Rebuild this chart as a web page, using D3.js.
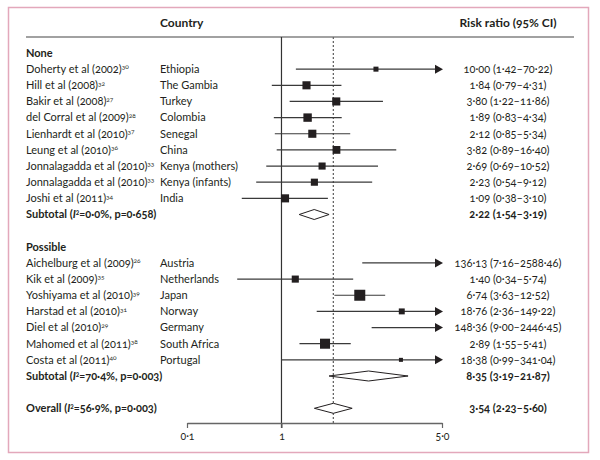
<!DOCTYPE html>
<html><head><meta charset="utf-8">
<script src="https://cdn.jsdelivr.net/npm/d3@7"></script>
<style>
body{margin:0;background:#fff;}
svg text{font-family:Lato,"Open Sans",sans-serif;fill:#231f20;font-variant-numeric:oldstyle-nums;}
</style></head><body>
<svg id="c" width="600" height="460"></svg>
<script>
// ---- data ----
const studies = ["Doherty et al (2002)","Hill et al (2008)","Bakir et al (2008)","del Corral et al (2009)","Lienhardt et al (2010)","Leung et al (2010)","Jonnalagadda et al (2010)","Jonnalagadda et al (2010)","Joshi et al (2011)",
  "Aichelburg et al (2009)","Kik et al (2009)","Yoshiyama et al (2010)","Harstad et al (2010)","Diel et al (2010)","Mahomed et al (2011)","Costa et al (2011)"];
const refs = ["30","32","27","28","37","36","33","33","34","26","35","39","31","29","38","40"];
const countries = ["Ethiopia","The Gambia","Turkey","Colombia","Senegal","China","Kenya (mothers)","Kenya (infants)","India",
  "Austria","Netherlands","Japan","Norway","Germany","South Africa","Portugal"];
const groupOf = ["None","None","None","None","None","None","None","None","None","Possible","Possible","Possible","Possible","Possible","Possible","Possible"];
const rr = [10.00,1.84,3.80,1.89,2.12,3.82,2.69,2.23,1.09,136.13,1.40,6.74,18.76,148.36,2.89,18.38];
const lo = [1.42,0.79,1.22,0.83,0.85,0.89,0.69,0.54,0.38,7.16,0.34,3.63,2.36,9.00,1.55,0.99];
const hi = [70.22,4.31,11.86,4.34,5.34,16.40,10.52,9.12,3.10,2588.46,5.74,12.52,149.22,2446.45,5.41,341.04];
const rrText = ["10·00 (1·42–70·22)","1·84 (0·79–4·31)","3·80 (1·22–11·86)","1·89 (0·83–4·34)","2·12 (0·85–5·34)","3·82 (0·89–16·40)","2·69 (0·69–10·52)","2·23 (0·54–9·12)","1·09 (0·38–3·10)",
  "136·13 (7·16–2588·46)","1·40 (0·34–5·74)","6·74 (3·63–12·52)","18·76 (2·36–149·22)","148·36 (9·00–2446·45)","2·89 (1·55–5·41)","18·38 (0·99–341·04)"];
const weights = [2.5,6.5,6.5,7,6.5,6,5,5,6.5,1.2,5,12,3.5,1.2,10,1.6];
const groups = ["None","Possible"];
const subI2 = ["0·0%","70·4%"];
const subP = ["0·658","0·003"];
const subRR = [2.22,8.35];
const subLo = [1.54,3.19];
const subHi = [3.19,21.87];
const subText = ["2·22 (1·54–3·19)","8·35 (3·19–21·87)"];
const overallI2 = "56·9%", overallP = "0·003";
const overallRR = 3.54, overallLo = 2.23, overallHi = 5.60;
const overallText = "3·54 (2·23–5·60)";
const tickValues = [0.1, 1, 50];
const tickLabels = ["0·1","1","5·0"];

// ---- layout rows ----
const rows = [];
groups.forEach((g,gi)=>{
  rows.push({type:"group", label:g});
  groupOf.forEach((gg,i)=>{ if(gg===g) rows.push({type:"study", i}); });
  rows.push({type:"sub", gi});
  rows.push({type:"blank"});
});
rows.push({type:"overall"});

const svg = d3.select("#c");
svg.append("rect").attr("x",8.5).attr("y",7.5).attr("width",580).attr("height",445)
  .attr("fill","none").attr("stroke","#e3a8bb").attr("stroke-width",1.5);

const FS = 11;
const y = d3.scalePoint().domain(d3.range(rows.length)).range([53, 53+16.15*(rows.length-1)]);
const x = d3.scaleLog().domain([0.1,50]).range([187,442]);
const side = d3.scaleSqrt().domain([0,12]).range([0,11]);
const xCol1 = 26, xCol2 = 160, xCol3 = 508;
const yTop = 37, yAxis = 423;
const dark = "#231f20";

// header
svg.append("text").attr("x",xCol2).attr("y",23).attr("dy","0.35em").attr("font-size",12).attr("font-weight",700).attr("fill","#333").text("Country");
svg.append("text").attr("x",xCol3).attr("y",23).attr("dy","0.35em").attr("text-anchor","middle").attr("font-size",12).attr("font-weight",700).attr("fill","#333").text("Risk ratio (95% CI)");
svg.append("line").attr("x1",26).attr("x2",574).attr("y1",yTop).attr("y2",yTop).attr("stroke","#444").attr("stroke-width",1.2);

// reference lines
svg.append("line").attr("x1",x(1)).attr("x2",x(1)).attr("y1",yTop).attr("y2",yAxis+5).attr("stroke","#333").attr("stroke-width",1.2);
svg.append("line").attr("x1",x(overallRR)).attr("x2",x(overallRR)).attr("y1",yTop).attr("y2",yAxis)
  .attr("stroke","#666").attr("stroke-width",1.3).attr("stroke-dasharray","2,2");

// axis
const axis = d3.axisBottom(x).tickValues(tickValues).tickFormat((d,i)=>tickLabels[i]).tickSize(5).tickSizeOuter(0);
const ag = svg.append("g").attr("transform",`translate(0,${yAxis})`).call(axis);
ag.select(".domain").attr("stroke","#666").attr("stroke-width",1.5);
ag.selectAll(".tick line").attr("stroke","#666").attr("stroke-width",1.2);
ag.selectAll(".tick text").attr("font-size",10.5).attr("fill","#444").attr("font-family","Lato,sans-serif").attr("dy","0.9em");

function arrow(xTip, yy){
  svg.append("path").attr("d",`M${xTip},${yy} L${xTip-8},${yy-4.5} L${xTip-8},${yy+4.5} Z`).attr("fill",dark);
}
function diamond(l,c,h,yy){
  svg.append("path").attr("d",`M${x(l)},${yy} L${x(c)},${yy-5} L${x(h)},${yy} L${x(c)},${yy+5} Z`)
    .attr("fill","#fff").attr("stroke",dark).attr("stroke-width",1);
}
function i2label(prefix, i2, p, yy){
  const tx = svg.append("text").attr("x",xCol1).attr("y",yy).attr("dy","0.35em").attr("font-size",FS).attr("font-weight",700);
  tx.append("tspan").text(prefix+" (");
  tx.append("tspan").attr("font-style","italic").text("I");
  tx.append("tspan").attr("font-size",6.5).attr("dy","-0.5em").text("2");
  tx.append("tspan").attr("dy","0.3em").text(`=${i2}, p=${p})`);
}

rows.forEach((r,ri)=>{
  const yy = y(ri);
  if(r.type==="group"){
    svg.append("text").attr("x",xCol1).attr("y",yy).attr("dy","0.35em").attr("font-size",FS).attr("font-weight",700).text(r.label);
  } else if(r.type==="study"){
    const i = r.i;
    const t = svg.append("text").attr("x",xCol1).attr("y",yy).attr("dy","0.35em").attr("font-size",FS);
    t.append("tspan").text(studies[i]);
    t.append("tspan").attr("font-size",6.5).attr("dy","-0.55em").text(refs[i]);
    svg.append("text").attr("x",xCol2).attr("y",yy).attr("dy","0.35em").attr("font-size",FS).text(countries[i]);
    svg.append("text").attr("x",xCol3).attr("y",yy).attr("dy","0.35em").attr("text-anchor","middle").attr("font-size",FS).text(rrText[i]);
    const x1 = x(Math.max(lo[i],0.1)), over = hi[i] > 50;
    const x2 = over ? x(50)-6 : x(hi[i]);
    svg.append("line").attr("x1",x1).attr("x2",x2).attr("y1",yy).attr("y2",yy).attr("stroke","#3a3a3a").attr("stroke-width",1.2);
    if(over) arrow(x(50)+1, yy);
    if(rr[i] <= 50){
      const s = side(weights[i]);
      svg.append("rect").attr("x",x(rr[i])-s/2).attr("y",yy-s/2).attr("width",s).attr("height",s).attr("fill",dark);
    }
  } else if(r.type==="sub"){
    const g = r.gi;
    i2label("Subtotal",subI2[g],subP[g],yy);
    svg.append("text").attr("x",xCol3).attr("y",yy).attr("dy","0.35em").attr("text-anchor","middle").attr("font-size",FS).attr("font-weight",700).text(subText[g]);
    diamond(subLo[g],subRR[g],subHi[g],yy);
  } else if(r.type==="overall"){
    i2label("Overall",overallI2,overallP,yy);
    svg.append("text").attr("x",xCol3).attr("y",yy).attr("dy","0.35em").attr("text-anchor","middle").attr("font-size",FS).attr("font-weight",700).text(overallText);
    diamond(overallLo,overallRR,overallHi,yy);
  }
});
</script></body></html>
